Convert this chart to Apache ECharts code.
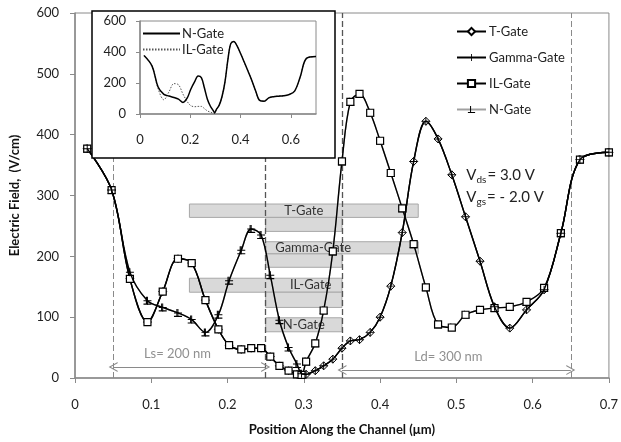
<!DOCTYPE html>
<html>
<head>
<meta charset="utf-8">
<script src="https://cdn.jsdelivr.net/npm/echarts@6/dist/echarts.min.js"></script>
<style>
  html, body { margin: 0; padding: 0; background: #fff; }
  #chart { width: 621px; height: 442px; }
</style>
</head>
<body>
<div id="chart"></div>
<script>
// positions along the channel (um) where the field was sampled
const leftX = [0.016, 0.048, 0.072, 0.095, 0.115, 0.135, 0.153, 0.171, 0.188, 0.202, 0.218, 0.231, 0.244, 0.256, 0.268, 0.280, 0.291, 0.297];
const rightX = [0.303, 0.315, 0.326, 0.338, 0.350, 0.361, 0.373, 0.387, 0.400, 0.414, 0.429, 0.444, 0.460, 0.476, 0.494, 0.512, 0.531, 0.550, 0.570, 0.592, 0.615, 0.637, 0.662, 0.700];

// source side: gate foot extended to 0.15 (A) or not (B)
const leftA = [377, 309, 163, 92, 142, 196, 189, 128, 80, 54, 47, 49, 49, 35, 20, 12, 6, 5];
const leftB = [377, 309, 174, 127, 116, 107, 96, 75, 104, 160, 210, 245, 235, 169, 95, 50, 23, 7];
// drain side: gate head extended to 0.45 (A) or not (B)
const rightA = [6, 12, 20, 31, 49, 61, 63, 75, 100, 151, 239, 356, 422, 393, 334, 265, 192, 117, 82, 112, 145, 238, 359, 371];
const rightB = [27, 57, 111, 208, 356, 454, 467, 436, 390, 337, 279, 220, 149, 88, 83, 104, 112, 115, 117, 125, 148, 238, 359, 371];

const legendNames = ['T-Gate', 'Gamma-Gate', 'IL-Gate', 'N-Gate'];

// gate sketches: [label, x from, x to, y bottom, y top]
const gateBars = [
    ['T-Gate', 0.15, 0.45, 264, 286],
    ['', 0.25, 0.35, 241, 264],
    ['Gamma-Gate', 0.25, 0.45, 204, 224],
    ['', 0.25, 0.35, 182, 204],
    ['IL-Gate', 0.15, 0.35, 141, 164],
    ['', 0.25, 0.35, 116, 141],
    ['N-Gate', 0.25, 0.35, 76, 99]
];
const gateLabelPos = { 'T-Gate': 'inside', 'Gamma-Gate': 'insideLeft', 'IL-Gate': 'insideRight', 'N-Gate': 'inside' };

const edgeLines = [0.05, 0.25, 0.35, 0.65];

// bias note, anchored at its left edge in data units
const biasNote = [
    ['{v|V}{s|ds}{v|= 3.0 V}', 0.513, 333],
    ['{v|V}{s|gs}{v|= - 2.0 V}', 0.513, 297]
];

const FONT = 'Lato';

const pts = (xs, ys) => xs.map((x, i) => [x, ys[i]]);

const curveT = pts(leftX, leftA).concat(pts(rightX, rightA));
const curveGamma = pts(leftX, leftB).concat(pts(rightX, rightA));
const curveIL = pts(leftX, leftA).concat(pts(rightX, rightB));
const curveN = pts(leftX, leftB).concat(pts(rightX, rightB));

const plusPath = 'path://M4.4,0h1.2v10h-1.2z M0,4.4h10v1.2H0z';
const nMarkPath = 'path://M3,0h1.4v8.6H10V10H0V8.6h3z';
const chevron = 'path://M5,0 L10,10 L8.8,10 L5,2.4 L1.2,10 L0,10 Z';

const dom = document.getElementById('chart');
const chart = echarts.init(dom, null, { renderer: 'canvas' });

const mainLine = (name, data, symbol, size, itemStyle, color, z) => ({
    name: name,
    type: 'line',
    data: data,
    smooth: 0.35,
    symbol: symbol,
    symbolSize: size,
    showAllSymbol: true,
    lineStyle: { color: color, width: 1.4 },
    itemStyle: itemStyle,
    z: z
});

const option = {
    animation: false,
    backgroundColor: '#fff',
    textStyle: { fontFamily: FONT },
    grid: [
        { left: 72, right: 9, top: 13, bottom: 64, show: true, borderColor: '#8a8a8a', borderWidth: 1 },
        { left: 140, top: 21, width: 176, height: 93, show: true, borderColor: '#8a8a8a', borderWidth: 1, backgroundColor: '#fff', z: 60 }
    ],
    xAxis: [
        {
            type: 'value', min: 0, max: 0.7, interval: 0.1, gridIndex: 0,
            name: 'Position Along the Channel (\u03bcm)', nameLocation: 'middle', nameGap: 45,
            nameTextStyle: { fontWeight: 'bold', fontSize: 13, color: '#111', fontFamily: FONT },
            axisLine: { lineStyle: { color: '#8a8a8a', width: 1.5 } },
            axisTick: { show: true, length: 5, lineStyle: { color: '#8a8a8a' } },
            axisLabel: { color: '#222', fontSize: 13, margin: 20 },
            splitLine: { show: false }
        },
        {
            type: 'value', min: 0, max: 0.7, interval: 0.2, gridIndex: 1, z: 61,
            axisLine: { lineStyle: { color: '#8a8a8a', width: 1.5 } },
            axisTick: { show: true, length: 4, lineStyle: { color: '#8a8a8a' } },
            axisLabel: { color: '#222', fontSize: 13, margin: 19, showMaxLabel: false },
            splitLine: { show: false }
        }
    ],
    yAxis: [
        {
            type: 'value', min: 0, max: 600, interval: 100, gridIndex: 0,
            name: 'Electric Field,  (V/cm)', nameLocation: 'middle', nameGap: 54,
            nameTextStyle: { fontWeight: 'bold', fontSize: 13, color: '#111', fontFamily: FONT },
            axisLine: { show: true, lineStyle: { color: '#8a8a8a', width: 1.5 } },
            axisTick: { show: true, length: 5, lineStyle: { color: '#8a8a8a' } },
            axisLabel: { color: '#222', fontSize: 13, margin: 16 },
            splitLine: { show: false }
        },
        {
            type: 'value', min: 0, max: 600, interval: 200, gridIndex: 1, z: 61,
            axisLine: { show: true, lineStyle: { color: '#8a8a8a', width: 1.5 } },
            axisTick: { show: true, length: 4, lineStyle: { color: '#8a8a8a' } },
            axisLabel: { color: '#222', fontSize: 13, margin: 14 },
            splitLine: { show: false }
        }
    ],
    legend: [
        {
            data: legendNames,
            orient: 'vertical', left: 451, top: 20,
            itemWidth: 29, itemHeight: 9, itemGap: 13,
            textStyle: { fontSize: 13, color: '#222', fontFamily: FONT, padding: [0, 0, 0, -2] },
            z: 70
        },
        {
            data: ['N-Gate (inset)', 'IL-Gate (inset)'],
            formatter: (name) => name.replace(' (inset)', ''),
            orient: 'vertical', left: 137, top: 22,
            itemWidth: 37, itemHeight: 8, itemGap: 3,
            itemStyle: { opacity: 0 },
            textStyle: { fontSize: 13, color: '#222', fontFamily: FONT, padding: [0, 0, 0, -3] },
            z: 70
        }
    ],
    graphic: {
        elements: [
            {
                id: 'insetFrame', type: 'rect', z: 50,
                shape: { x: 92, y: 11, width: 243, height: 147 },
                style: { fill: '#fff', stroke: '#000', lineWidth: 1.5 }
            }
        ]
    },
    series: [
        // gate sketches
        {
            type: 'line', data: [], z: 1, silent: true,
            markArea: {
                silent: true,
                itemStyle: { color: '#d9d9d9', opacity: 1, borderColor: '#a8a8a8', borderWidth: 1 },
                label: { show: true, color: '#333', fontSize: 13, fontFamily: FONT },
                data: gateBars.map(g => [
                    {
                        name: g[0], xAxis: g[1], yAxis: g[4],
                        label: { position: gateLabelPos[g[0]] || 'inside', distance: g[0] === 'Gamma-Gate' ? 10 : 11 }
                    },
                    { xAxis: g[2], yAxis: g[3] }
                ])
            }
        },
        // gate edges and Ls / Ld arrows
        {
            type: 'line', data: [], z: 2, silent: true,
            markLine: {
                silent: true,
                symbol: 'none',
                label: { show: false },
                data: edgeLines.map(x => ({
                    xAxis: x,
                    lineStyle: {
                        type: [6, 3],
                        width: (x === 0.25 || x === 0.35) ? 1.3 : 1,
                        color: (x === 0.25 || x === 0.35) ? '#555' : '#8a8a8a'
                    }
                }))
            }
        },
        {
            type: 'line', data: [], z: 2, silent: true,
            markLine: {
                silent: true,
                symbol: [chevron, chevron],
                symbolSize: [10, 9],
                lineStyle: { type: 'solid', color: '#8a8a8a', width: 1.2 },
                label: { show: true, position: 'middle', color: '#909090', fontSize: 13, fontFamily: FONT, distance: 7 },
                data: [
                    [{ coord: [0.05, 18], label: { formatter: 'Ls= 200 nm', offset: [-12, 0] } }, { coord: [0.25, 18] }],
                    [{ coord: [0.35, 13], label: { formatter: 'Ld= 300 nm', offset: [-8, 0] } }, { coord: [0.65, 13] }]
                ]
            }
        },
        mainLine('N-Gate', curveN, nMarkPath, 8, { color: '#000' }, '#a0a0a0', 4),
        mainLine('T-Gate', curveT, 'diamond', 8, { color: '#fff', borderColor: '#000', borderWidth: 1 }, '#000', 5),
        mainLine('IL-Gate', curveIL, 'rect', 7, { color: '#fff', borderColor: '#000', borderWidth: 1.2 }, '#000', 6),
        mainLine('Gamma-Gate', curveGamma, plusPath, 8, { color: '#000' }, '#000', 7),
        // inset
        {
            name: 'IL-Gate (inset)', type: 'line', xAxisIndex: 1, yAxisIndex: 1,
            data: curveIL, smooth: 0.35, symbol: 'none', z: 62,
            itemStyle: { color: '#555' },
            lineStyle: { color: '#555', width: 1, type: [1.5, 1.5] }
        },
        {
            name: 'N-Gate (inset)', type: 'line', xAxisIndex: 1, yAxisIndex: 1,
            data: curveN, smooth: 0.35, symbol: 'none', z: 63,
            itemStyle: { color: '#000' },
            lineStyle: { color: '#000', width: 1.5 }
        }
    ]
};

chart.setOption(option);

// place the bias note through the main grid's scales
const noteRich = {
    v: { fontSize: 15, fill: '#222', fontFamily: FONT },
    s: { fontSize: 10, fill: '#222', fontFamily: FONT, padding: [9, 1, 0, 0] }
};
chart.setOption({
    graphic: {
        elements: biasNote.map((n, i) => {
            const p = chart.convertToPixel({ gridIndex: 0 }, [n[1], n[2]]);
            return {
                id: 'note' + i, type: 'text', z: 10,
                x: p[0], y: p[1],
                style: { text: n[0], rich: noteRich, fill: '#222', font: '15px ' + FONT, align: 'left', verticalAlign: 'middle' }
            };
        })
    }
});
</script>
</body>
</html>
